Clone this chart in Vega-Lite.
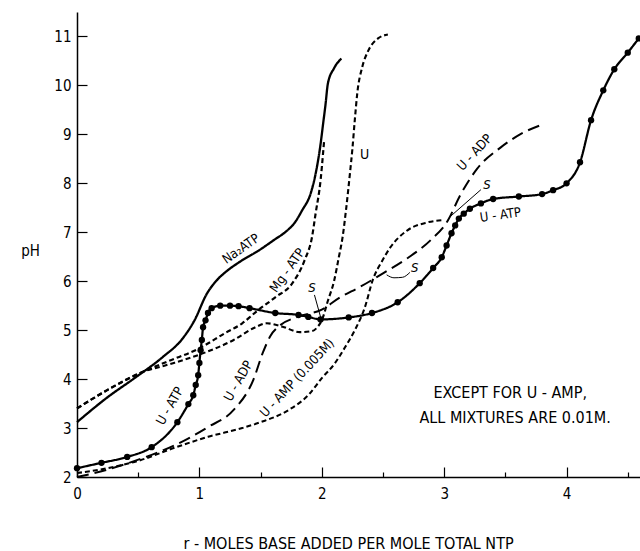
{
  "$schema": "https://vega.github.io/schema/vega-lite/v6.json",
  "width": 563,
  "height": 465,
  "autosize": {"type": "none"},
  "padding": {"left": 77, "top": 12, "right": 0, "bottom": 74},
  "background": "white",
  "config": {
    "view": {"stroke": null},
    "font": "Liberation Sans Narrow, DejaVu Sans Condensed, Arial Narrow, sans-serif",
    "text": {"font": "Liberation Sans Narrow, DejaVu Sans Condensed, Arial Narrow, sans-serif", "color": "black"}
  },
  "datasets": {
    "curves": [
      {"s": "Na2ATP", "x": 0, "y": 3.12}, {"s": "Na2ATP", "x": 0.25, "y": 3.63}, {"s": "Na2ATP", "x": 0.47, "y": 4.02}, {"s": "Na2ATP", "x": 0.7, "y": 4.45}, {"s": "Na2ATP", "x": 0.86, "y": 4.82}, {"s": "Na2ATP", "x": 0.96, "y": 5.2}, {"s": "Na2ATP", "x": 1.06, "y": 5.74}, {"s": "Na2ATP", "x": 1.15, "y": 6.04}, {"s": "Na2ATP", "x": 1.22, "y": 6.2}, {"s": "Na2ATP", "x": 1.32, "y": 6.38}, {"s": "Na2ATP", "x": 1.48, "y": 6.62}, {"s": "Na2ATP", "x": 1.62, "y": 6.86}, {"s": "Na2ATP", "x": 1.7, "y": 7.0}, {"s": "Na2ATP", "x": 1.78, "y": 7.2}, {"s": "Na2ATP", "x": 1.84, "y": 7.45}, {"s": "Na2ATP", "x": 1.91, "y": 7.8}, {"s": "Na2ATP", "x": 1.95, "y": 8.2}, {"s": "Na2ATP", "x": 1.99, "y": 8.8}, {"s": "Na2ATP", "x": 2.01, "y": 9.2}, {"s": "Na2ATP", "x": 2.03, "y": 9.6}, {"s": "Na2ATP", "x": 2.05, "y": 10.04}, {"s": "Na2ATP", "x": 2.1, "y": 10.35}, {"s": "Na2ATP", "x": 2.16, "y": 10.55},
      {"s": "Mg-ATP", "x": 0, "y": 3.4}, {"s": "Mg-ATP", "x": 0.25, "y": 3.78}, {"s": "Mg-ATP", "x": 0.53, "y": 4.14}, {"s": "Mg-ATP", "x": 0.75, "y": 4.37}, {"s": "Mg-ATP", "x": 1.0, "y": 4.63}, {"s": "Mg-ATP", "x": 1.21, "y": 4.94}, {"s": "Mg-ATP", "x": 1.35, "y": 5.14}, {"s": "Mg-ATP", "x": 1.48, "y": 5.41}, {"s": "Mg-ATP", "x": 1.62, "y": 5.67}, {"s": "Mg-ATP", "x": 1.76, "y": 5.96}, {"s": "Mg-ATP", "x": 1.86, "y": 6.43}, {"s": "Mg-ATP", "x": 1.92, "y": 6.9}, {"s": "Mg-ATP", "x": 1.95, "y": 7.39}, {"s": "Mg-ATP", "x": 1.99, "y": 8.06}, {"s": "Mg-ATP", "x": 2.01, "y": 8.6}, {"s": "Mg-ATP", "x": 2.02, "y": 8.9},
      {"s": "U", "x": 0, "y": 3.4}, {"s": "U", "x": 0.25, "y": 3.78}, {"s": "U", "x": 0.53, "y": 4.14}, {"s": "U", "x": 0.75, "y": 4.3}, {"s": "U", "x": 1.0, "y": 4.5}, {"s": "U", "x": 1.28, "y": 4.8}, {"s": "U", "x": 1.45, "y": 5.05}, {"s": "U", "x": 1.55, "y": 5.14}, {"s": "U", "x": 1.68, "y": 5.07}, {"s": "U", "x": 1.82, "y": 4.96}, {"s": "U", "x": 1.92, "y": 4.98}, {"s": "U", "x": 1.97, "y": 5.08}, {"s": "U", "x": 2.0, "y": 5.2}, {"s": "U", "x": 2.05, "y": 5.6}, {"s": "U", "x": 2.1, "y": 6.0}, {"s": "U", "x": 2.14, "y": 6.5}, {"s": "U", "x": 2.17, "y": 6.9}, {"s": "U", "x": 2.2, "y": 7.5}, {"s": "U", "x": 2.23, "y": 8.2}, {"s": "U", "x": 2.25, "y": 8.7}, {"s": "U", "x": 2.27, "y": 9.3}, {"s": "U", "x": 2.29, "y": 9.84}, {"s": "U", "x": 2.33, "y": 10.37}, {"s": "U", "x": 2.38, "y": 10.71}, {"s": "U", "x": 2.46, "y": 10.96}, {"s": "U", "x": 2.54, "y": 11.04},
      {"s": "U-ADP", "x": 0, "y": 2.0}, {"s": "U-ADP", "x": 0.25, "y": 2.15}, {"s": "U-ADP", "x": 0.53, "y": 2.38}, {"s": "U-ADP", "x": 0.8, "y": 2.65}, {"s": "U-ADP", "x": 1.07, "y": 3.02}, {"s": "U-ADP", "x": 1.28, "y": 3.37}, {"s": "U-ADP", "x": 1.44, "y": 3.98}, {"s": "U-ADP", "x": 1.52, "y": 4.55}, {"s": "U-ADP", "x": 1.58, "y": 4.88}, {"s": "U-ADP", "x": 1.66, "y": 5.1}, {"s": "U-ADP", "x": 1.8, "y": 5.27}, {"s": "U-ADP", "x": 2.0, "y": 5.42}, {"s": "U-ADP", "x": 2.15, "y": 5.67}, {"s": "U-ADP", "x": 2.31, "y": 5.88}, {"s": "U-ADP", "x": 2.5, "y": 6.16}, {"s": "U-ADP", "x": 2.7, "y": 6.47}, {"s": "U-ADP", "x": 2.89, "y": 6.84}, {"s": "U-ADP", "x": 3.03, "y": 7.24}, {"s": "U-ADP", "x": 3.13, "y": 7.75}, {"s": "U-ADP", "x": 3.27, "y": 8.3}, {"s": "U-ADP", "x": 3.46, "y": 8.73}, {"s": "U-ADP", "x": 3.62, "y": 9.0}, {"s": "U-ADP", "x": 3.8, "y": 9.2},
      {"s": "U-AMP", "x": 0, "y": 2.08}, {"s": "U-AMP", "x": 0.25, "y": 2.18}, {"s": "U-AMP", "x": 0.5, "y": 2.33}, {"s": "U-AMP", "x": 0.8, "y": 2.6}, {"s": "U-AMP", "x": 1.07, "y": 2.82}, {"s": "U-AMP", "x": 1.35, "y": 3.0}, {"s": "U-AMP", "x": 1.5, "y": 3.12}, {"s": "U-AMP", "x": 1.73, "y": 3.37}, {"s": "U-AMP", "x": 1.9, "y": 3.7}, {"s": "U-AMP", "x": 2.0, "y": 4.02}, {"s": "U-AMP", "x": 2.1, "y": 4.3}, {"s": "U-AMP", "x": 2.19, "y": 4.65}, {"s": "U-AMP", "x": 2.27, "y": 5.0}, {"s": "U-AMP", "x": 2.35, "y": 5.45}, {"s": "U-AMP", "x": 2.42, "y": 6.05}, {"s": "U-AMP", "x": 2.49, "y": 6.4}, {"s": "U-AMP", "x": 2.56, "y": 6.69}, {"s": "U-AMP", "x": 2.7, "y": 7.04}, {"s": "U-AMP", "x": 2.86, "y": 7.2}, {"s": "U-AMP", "x": 3.0, "y": 7.25},
      {"s": "U-ATP", "x": 0, "y": 2.18}, {"s": "U-ATP", "x": 0.2, "y": 2.29}, {"s": "U-ATP", "x": 0.41, "y": 2.41}, {"s": "U-ATP", "x": 0.61, "y": 2.61}, {"s": "U-ATP", "x": 0.82, "y": 3.12}, {"s": "U-ATP", "x": 0.91, "y": 3.49}, {"s": "U-ATP", "x": 0.95, "y": 3.67}, {"s": "U-ATP", "x": 0.97, "y": 3.88}, {"s": "U-ATP", "x": 0.99, "y": 4.08}, {"s": "U-ATP", "x": 1.0, "y": 4.33}, {"s": "U-ATP", "x": 1.01, "y": 4.59}, {"s": "U-ATP", "x": 1.02, "y": 4.8}, {"s": "U-ATP", "x": 1.03, "y": 5.06}, {"s": "U-ATP", "x": 1.05, "y": 5.2}, {"s": "U-ATP", "x": 1.07, "y": 5.35}, {"s": "U-ATP", "x": 1.1, "y": 5.45}, {"s": "U-ATP", "x": 1.17, "y": 5.5}, {"s": "U-ATP", "x": 1.25, "y": 5.5}, {"s": "U-ATP", "x": 1.32, "y": 5.49}, {"s": "U-ATP", "x": 1.41, "y": 5.45}, {"s": "U-ATP", "x": 1.62, "y": 5.35}, {"s": "U-ATP", "x": 1.81, "y": 5.31}, {"s": "U-ATP", "x": 1.89, "y": 5.27}, {"s": "U-ATP", "x": 1.99, "y": 5.22}, {"s": "U-ATP", "x": 2.22, "y": 5.26}, {"s": "U-ATP", "x": 2.41, "y": 5.35}, {"s": "U-ATP", "x": 2.62, "y": 5.57}, {"s": "U-ATP", "x": 2.8, "y": 5.96}, {"s": "U-ATP", "x": 2.91, "y": 6.27}, {"s": "U-ATP", "x": 2.98, "y": 6.49}, {"s": "U-ATP", "x": 3.02, "y": 6.73}, {"s": "U-ATP", "x": 3.06, "y": 6.98}, {"s": "U-ATP", "x": 3.09, "y": 7.14}, {"s": "U-ATP", "x": 3.12, "y": 7.28}, {"s": "U-ATP", "x": 3.16, "y": 7.38}, {"s": "U-ATP", "x": 3.21, "y": 7.48}, {"s": "U-ATP", "x": 3.3, "y": 7.59}, {"s": "U-ATP", "x": 3.4, "y": 7.68}, {"s": "U-ATP", "x": 3.61, "y": 7.73}, {"s": "U-ATP", "x": 3.8, "y": 7.78}, {"s": "U-ATP", "x": 3.89, "y": 7.86}, {"s": "U-ATP", "x": 4.0, "y": 8.0}, {"s": "U-ATP", "x": 4.11, "y": 8.43}, {"s": "U-ATP", "x": 4.2, "y": 9.29}, {"s": "U-ATP", "x": 4.3, "y": 9.9}, {"s": "U-ATP", "x": 4.39, "y": 10.33}, {"s": "U-ATP", "x": 4.5, "y": 10.67}, {"s": "U-ATP", "x": 4.59, "y": 10.96}
    ],
    "pointers": [
      {"p": "1", "x": 1.94, "y": 5.72}, {"p": "1", "x": 1.99, "y": 5.27},
      {"p": "2", "x": 2.53, "y": 6.13}, {"p": "2", "x": 2.59, "y": 6.07}, {"p": "2", "x": 2.66, "y": 6.08}, {"p": "2", "x": 2.72, "y": 6.18},
      {"p": "3", "x": 3.04, "y": 7.3}, {"p": "3", "x": 3.3, "y": 7.87}
    ]
  },
  "layer": [
    {
      "data": {"name": "curves"},
      "mark": {"type": "line", "interpolate": "monotone", "color": "black"},
      "encoding": {
        "x": {
          "field": "x", "type": "quantitative",
          "scale": {"domain": [0, 4.6], "nice": false, "zero": false},
          "axis": {
            "values": [0, 0.5, 1, 1.5, 2, 2.5, 3, 3.5, 4, 4.5],
            "labelExpr": "datum.value % 1 === 0 ? format(datum.value, 'd') : ''",
            "tickSize": {"condition": {"test": "datum.value % 1 === 0", "value": -10}, "value": -5},
            "tickColor": "black", "domainColor": "black", "domainWidth": 1.5, "tickWidth": 1.2,
            "grid": false, "labelFontSize": 15, "labelColor": "black", "labelPadding": 19,
            "labelFlush": false,
            "title": "r - MOLES BASE ADDED PER MOLE TOTAL NTP",
            "titleFontSize": 16, "titleFontWeight": "normal", "titleColor": "black",
            "titleX": 271, "titleY": 66, "titleBaseline": "middle", "titleAnchor": "middle"
          }
        },
        "y": {
          "field": "y", "type": "quantitative",
          "scale": {"domain": [2, 11.5], "nice": false, "zero": false},
          "axis": {
            "values": [2, 3, 4, 5, 6, 7, 8, 9, 10, 11],
            "tickSize": -10, "tickColor": "black", "domainColor": "black", "domainWidth": 1.5, "tickWidth": 1.2,
            "grid": false, "labelFontSize": 15, "labelColor": "black", "labelPadding": 16,
            "labelFlush": false,
            "title": "pH", "titleAngle": 0, "titleFontSize": 15, "titleFontWeight": "normal", "titleColor": "black",
            "titleX": -47, "titleY": 238, "titleAlign": "center", "titleBaseline": "middle"
          }
        },
        "detail": {"field": "s"},
        "strokeDash": {
          "field": "s", "type": "nominal", "legend": null,
          "scale": {"domain": ["Na2ATP", "U-ATP", "Mg-ATP", "U", "U-AMP", "U-ADP"], "range": [[1, 0], [1, 0], [5, 3], [5, 3], [5, 3], [12, 6]]}
        },
        "strokeWidth": {
          "field": "s", "type": "nominal", "legend": null,
          "scale": {"domain": ["Na2ATP", "U-ATP", "Mg-ATP", "U", "U-AMP", "U-ADP"], "range": [2.3, 2, 2.5, 2.5, 2.5, 2.5]}
        }
      }
    },
    {
      "data": {"name": "curves"},
      "transform": [{"filter": "datum.s === 'U-ATP'"}],
      "mark": {"type": "point", "filled": true, "color": "black", "opacity": 1, "size": 40},
      "encoding": {
        "x": {"field": "x", "type": "quantitative"},
        "y": {"field": "y", "type": "quantitative"}
      }
    },
    {
      "data": {"name": "pointers"},
      "mark": {"type": "line", "interpolate": "monotone", "color": "black", "strokeWidth": 1},
      "encoding": {
        "x": {"field": "x", "type": "quantitative"},
        "y": {"field": "y", "type": "quantitative"},
        "detail": {"field": "p"}
      }
    },
    {
      "data": {"values": [{"x": 1.34, "y": 6.66, "t": "Na₂ATP"}]},
      "mark": {"type": "text", "angle": -35, "fontSize": 13},
      "encoding": {"x": {"field": "x", "type": "quantitative"}, "y": {"field": "y", "type": "quantitative"}, "text": {"field": "t"}}
    },
    {
      "data": {"values": [{"x": 1.72, "y": 6.22, "t": "Mg - ATP"}]},
      "mark": {"type": "text", "angle": -55, "fontSize": 13},
      "encoding": {"x": {"field": "x", "type": "quantitative"}, "y": {"field": "y", "type": "quantitative"}, "text": {"field": "t"}}
    },
    {
      "data": {"values": [{"x": 2.35, "y": 8.57, "t": "U"}]},
      "mark": {"type": "text", "fontSize": 14},
      "encoding": {"x": {"field": "x", "type": "quantitative"}, "y": {"field": "y", "type": "quantitative"}, "text": {"field": "t"}}
    },
    {
      "data": {"values": [{"x": 3.25, "y": 8.63, "t": "U - ADP"}]},
      "mark": {"type": "text", "angle": -47, "fontSize": 13},
      "encoding": {"x": {"field": "x", "type": "quantitative"}, "y": {"field": "y", "type": "quantitative"}, "text": {"field": "t"}}
    },
    {
      "data": {"values": [{"x": 3.46, "y": 7.35, "t": "U - ATP"}]},
      "mark": {"type": "text", "angle": -8, "fontSize": 13},
      "encoding": {"x": {"field": "x", "type": "quantitative"}, "y": {"field": "y", "type": "quantitative"}, "text": {"field": "t"}}
    },
    {
      "data": {"values": [{"x": 0.76, "y": 3.45, "t": "U - ATP"}, {"x": 1.32, "y": 3.96, "t": "U - ADP"}]},
      "mark": {"type": "text", "angle": -60, "fontSize": 13},
      "encoding": {"x": {"field": "x", "type": "quantitative"}, "y": {"field": "y", "type": "quantitative"}, "text": {"field": "t"}}
    },
    {
      "data": {"values": [{"x": 1.8, "y": 4.02, "t": "U - AMP (0.005M)"}]},
      "mark": {"type": "text", "angle": -47, "fontSize": 13},
      "encoding": {"x": {"field": "x", "type": "quantitative"}, "y": {"field": "y", "type": "quantitative"}, "text": {"field": "t"}}
    },
    {
      "data": {"values": [{"x": 1.92, "y": 5.86, "t": "S"}, {"x": 2.76, "y": 6.27, "t": "S"}, {"x": 3.35, "y": 7.96, "t": "S"}]},
      "mark": {"type": "text", "fontSize": 13, "fontStyle": "italic"},
      "encoding": {"x": {"field": "x", "type": "quantitative"}, "y": {"field": "y", "type": "quantitative"}, "text": {"field": "t"}}
    },
    {
      "data": {"values": [{"x": 3.54, "y": 3.71, "t": "EXCEPT  FOR  U - AMP,"}, {"x": 3.58, "y": 3.2, "t": "ALL  MIXTURES  ARE  0.01M."}]},
      "mark": {"type": "text", "fontSize": 16},
      "encoding": {"x": {"field": "x", "type": "quantitative"}, "y": {"field": "y", "type": "quantitative"}, "text": {"field": "t"}}
    }
  ]
}
